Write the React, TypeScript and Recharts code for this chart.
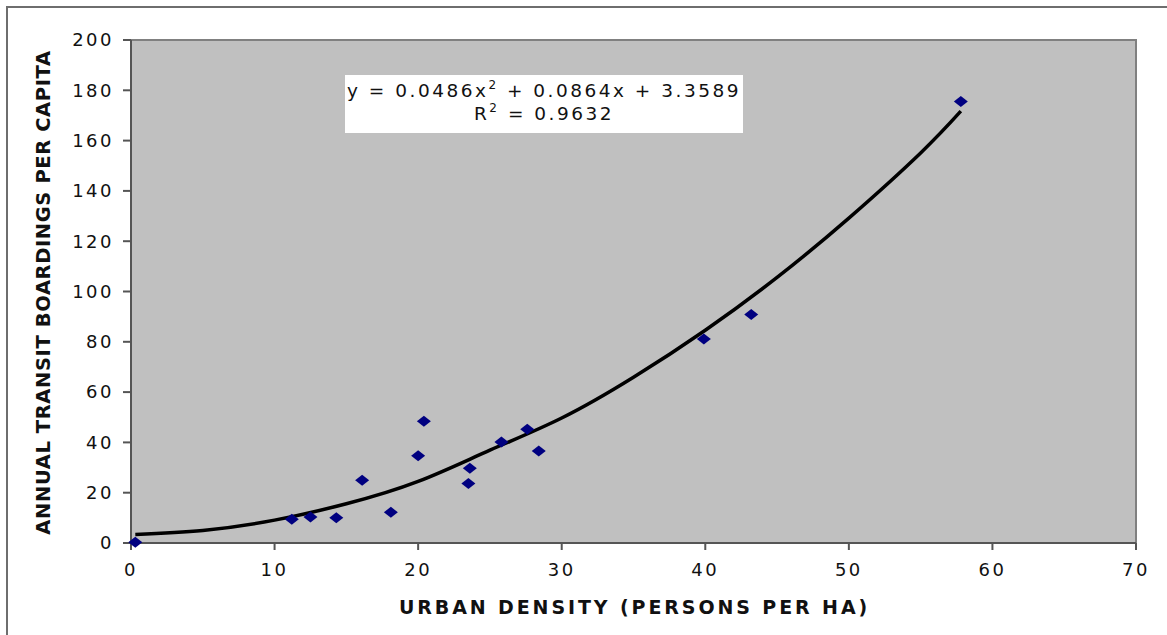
import { ComposedChart, Scatter, Line, XAxis, YAxis, ReferenceArea } from 'recharts';

const densityX = [0.3, 11.2, 12.5, 14.3, 16.1, 18.1, 20.0, 20.4, 23.5, 23.6, 25.8, 27.6, 28.4, 39.9, 43.2, 57.8];
const boardingsY = [0.3, 9.4, 10.3, 10.0, 25.0, 12.2, 34.7, 48.4, 23.7, 29.7, 40.2, 45.2, 36.6, 81.1, 90.9, 175.5];

// trend curve
const trendX = [0.3, 5, 10, 15, 20, 25, 30, 35, 40, 45, 50, 55, 57.8];
const trendY = [3.4, 5.0, 9.1, 15.6, 24.5, 36.9, 49.7, 65.9, 84.6, 105.6, 129.2, 155.1, 171.7];

const xTicks = [0, 10, 20, 30, 40, 50, 60, 70];
const yTicks = [0, 20, 40, 60, 80, 100, 120, 140, 160, 180, 200];

const points = densityX.map((x, i) => ({ x, y: boardingsY[i] }));
const trend = trendX.map((x, i) => ({ x, y: trendY[i] }));

const font = '"DejaVu Sans", Verdana, sans-serif';

const Diamond = (props: any) => {
  const { cx, cy } = props;
  if (cx == null || cy == null) return null;
  return <polygon points={`${cx - 7},${cy} ${cx},${cy - 5.5} ${cx + 7},${cy} ${cx},${cy + 5.5}`} fill="#000080" />;
};

export default function App() {
  return (
    <div style={{ position: 'fixed', left: 0, top: 0, width: 1167, height: 635, overflow: 'hidden', background: '#fff' }}>
      <div style={{ position: 'absolute', left: 6, top: 6, width: 1300, height: 800, border: '2px solid #6e6e6e' }} />
      <div style={{ position: 'absolute', left: 0, top: 0 }}>
        <ComposedChart width={1167} height={635} margin={{ top: 40, right: 31, left: 0, bottom: 0 }}>
          <ReferenceArea x1={0} x2={70} y1={0} y2={200} fill="#C0C0C0" fillOpacity={1} stroke="#808080" strokeWidth={2} />
          <XAxis
            type="number"
            dataKey="x"
            domain={[0, 70]}
            ticks={xTicks}
            height={92}
            stroke="#555"
            strokeWidth={2}
            tickSize={7}
            tickMargin={13}
            tick={{ fill: '#111', fontSize: 18, fontFamily: font, letterSpacing: 2.5 }}
            label={{ value: 'URBAN DENSITY (PERSONS PER HA)', position: 'center', dx: 1, dy: 18, fill: '#111', fontSize: 19, fontWeight: 'bold', fontFamily: font, letterSpacing: 2.9 }}
          />
          <YAxis
            type="number"
            dataKey="y"
            domain={[0, 200]}
            ticks={yTicks}
            width={131}
            stroke="#555"
            strokeWidth={2}
            tickSize={8}
            tickMargin={9}
            tick={{ fill: '#111', fontSize: 18, fontFamily: font, letterSpacing: 2.5 }}
            label={{ value: 'ANNUAL TRANSIT BOARDINGS PER CAPITA', angle: -90, position: 'center', dx: -22, dy: 1, fill: '#111', fontSize: 19.5, fontWeight: 'bold', fontFamily: font, letterSpacing: 0.6 }}
          />
          <Line data={trend} dataKey="y" type="natural" stroke="#000" strokeWidth={3.5} dot={false} isAnimationActive={false} />
          <Scatter data={points} dataKey="y" shape={<Diamond />} isAnimationActive={false} />
        </ComposedChart>
      </div>
      <div
        style={{
          position: 'absolute',
          left: 345,
          top: 75,
          width: 398,
          height: 58,
          background: '#fff',
          fontFamily: font,
          fontSize: 18.5,
          letterSpacing: 2.5,
          color: '#111',
          textAlign: 'center',
          lineHeight: '23px',
          paddingTop: 4,
          boxSizing: 'border-box',
          whiteSpace: 'nowrap',
        }}
      >
        <div>
          y = 0.0486x<sup style={{ fontSize: 12, verticalAlign: 'top', lineHeight: '12px' }}>2</sup> + 0.0864x + 3.3589
        </div>
        <div>
          R<sup style={{ fontSize: 12, verticalAlign: 'top', lineHeight: '12px' }}>2</sup> = 0.9632
        </div>
      </div>
    </div>
  );
}
